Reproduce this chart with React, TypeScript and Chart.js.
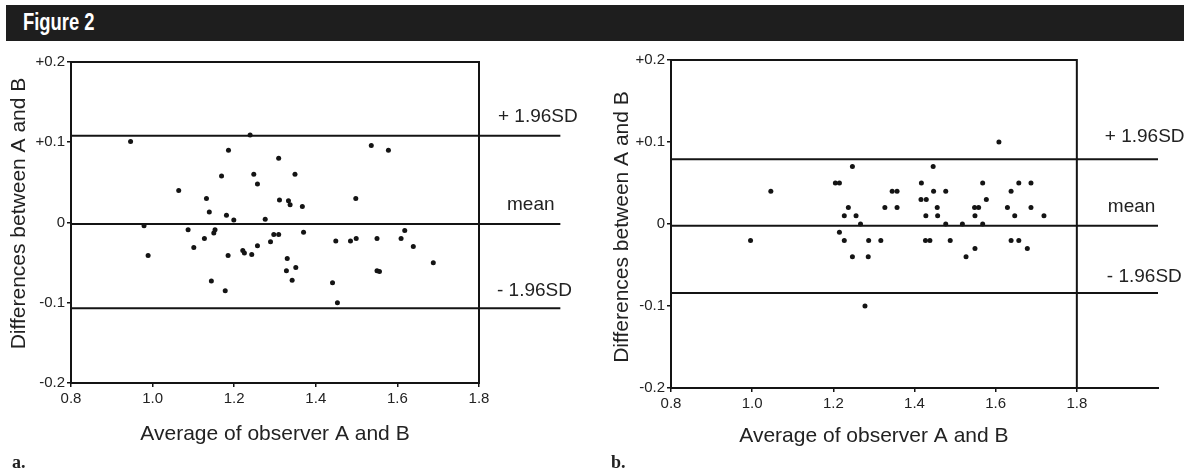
import React, { useEffect, useRef } from 'react';
import { Chart, registerables } from 'chart.js';
Chart.register(...registerables);

// ---------- data ----------
const xTickValues = [0.8, 1.0, 1.2, 1.4, 1.6, 1.8];
const yTickValues = [-0.2, -0.1, 0, 0.1, 0.2];
const yTickLabels = ['-0.2', '-0.1', '0', '+0.1', '+0.2'];
const xTitle = 'Average of observer A and B';
const yTitle = 'Differences between A and B';
const limitLabels = ['+ 1.96SD', 'mean', '- 1.96SD'];

// panel a
const aX = [
  0.946, 1.239, 1.186, 1.309, 1.169, 1.248, 1.257, 1.064, 1.132, 1.311,
  1.333, 1.337, 1.139, 1.181, 1.199, 1.276, 0.979, 1.087, 1.153, 1.150,
  1.297, 1.309, 1.127, 1.289, 1.101, 1.257, 1.221, 1.225, 1.243, 0.989,
  1.185, 1.330, 1.328, 1.144, 1.178,
  1.536, 1.578, 1.349, 1.367, 1.498, 1.370, 1.449, 1.485, 1.499, 1.550,
  1.609, 1.618, 1.639, 1.688, 1.351, 1.342, 1.441, 1.453, 1.550, 1.556,
];
const aY = [
  0.101, 0.109, 0.090, 0.080, 0.058, 0.060, 0.048, 0.040, 0.030, 0.028,
  0.027, 0.022, 0.013, 0.009, 0.003, 0.004, -0.004, -0.009, -0.009, -0.013,
  -0.015, -0.015, -0.020, -0.024, -0.031, -0.029, -0.035, -0.038, -0.040, -0.041,
  -0.041, -0.045, -0.060, -0.073, -0.085,
  0.096, 0.090, 0.060, 0.020, 0.030, -0.012, -0.023, -0.023, -0.020, -0.020,
  -0.020, -0.010, -0.030, -0.050, -0.056, -0.072, -0.075, -0.100, -0.060, -0.061,
];
const aLimits = [0.108, -0.002, -0.107];

// panel b
const bX = [
  1.608,
  1.247, 1.446,
  1.205, 1.215, 1.417, 1.568, 1.657, 1.687,
  1.046, 1.345, 1.357, 1.447, 1.477, 1.638,
  1.416, 1.429, 1.577,
  1.237, 1.327, 1.357, 1.456, 1.548, 1.558, 1.629, 1.687,
  1.227, 1.256, 1.428, 1.457, 1.549, 1.647, 1.719,
  1.267, 1.477, 1.518, 1.568,
  1.215,
  0.996, 1.227, 1.287, 1.317, 1.427, 1.438, 1.488, 1.638, 1.657,
  1.549, 1.678,
  1.247, 1.286, 1.527,
  1.278,
];
const bY = [
  0.10,
  0.07, 0.07,
  0.05, 0.05, 0.05, 0.05, 0.05, 0.05,
  0.04, 0.04, 0.04, 0.04, 0.04, 0.04,
  0.03, 0.03, 0.03,
  0.02, 0.02, 0.02, 0.02, 0.02, 0.02, 0.02, 0.02,
  0.01, 0.01, 0.01, 0.01, 0.01, 0.01, 0.01,
  0.0, 0.0, 0.0, 0.0,
  -0.01,
  -0.02, -0.02, -0.02, -0.02, -0.02, -0.02, -0.02, -0.02, -0.02,
  -0.03, -0.03,
  -0.04, -0.04, -0.04,
  -0.10,
];
const bLimits = [0.079, -0.002, -0.084];

// ---------- layout / style ----------
const INK = '#141414';
const TEXT = '#222';
const SANS = '"Liberation Sans", Arial, Helvetica, sans-serif';

type Panel = {
  xs: number[];
  ys: number[];
  limits: number[];
  canvasLeft: number;
  area: { left: number; top: number; right: number; bottom: number };
  bottomEnd: number;
  labelDx: number[];
  labelDy: number[];
  yTitleX: number;
  yTitleDy: number;
  xTitleDy: number;
};

const panelA: Panel = {
  xs: aX, ys: aY, limits: aLimits,
  canvasLeft: 0,
  area: { left: 71, top: 62, right: 560.6, bottom: 383 },
  bottomEnd: 1.8,
  labelDx: [19, 28, 18],
  labelDy: [14, 14, 12],
  yTitleX: 25,
  yTitleDy: -9,
  xTitleDy: 57,
};
const panelB: Panel = {
  xs: bX, ys: bY, limits: bLimits,
  canvasLeft: 592,
  area: { left: 79, top: 60, right: 566, bottom: 388 },
  bottomEnd: 2.0,
  labelDx: [28, 31, 30],
  labelDy: [17.5, 14, 11],
  yTitleX: 36,
  yTitleDy: 3,
  xTitleDy: 54,
};

const CW = 592;
const CH = 475;
const XAXIS_H = 30;

function makePlugin(p: Panel) {
  return {
    id: 'frameAndText',
    afterDatasetsDraw(chart: any) {
      const { ctx, scales } = chart;
      const x = scales.x;
      const y = scales.y;
      const x0 = x.getPixelForValue(0.8);
      const x18 = x.getPixelForValue(1.8);
      const xEnd = x.getPixelForValue(p.bottomEnd);
      const yTop = y.getPixelForValue(0.2);
      const yBot = y.getPixelForValue(-0.2);
      ctx.save();
      ctx.strokeStyle = INK;
      ctx.lineWidth = 2;
      ctx.lineCap = 'square';
      ctx.beginPath();
      ctx.moveTo(x0, yTop); ctx.lineTo(x18, yTop);
      ctx.moveTo(x0, yTop); ctx.lineTo(x0, yBot);
      ctx.moveTo(x18, yTop); ctx.lineTo(x18, yBot);
      ctx.moveTo(x0, yBot); ctx.lineTo(xEnd, yBot);
      ctx.stroke();

      ctx.fillStyle = TEXT;
      ctx.font = `19px ${SANS}`;
      ctx.textAlign = 'left';
      ctx.textBaseline = 'alphabetic';
      p.limits.forEach((v, i) => {
        ctx.fillText(limitLabels[i], x18 + p.labelDx[i], y.getPixelForValue(v) - p.labelDy[i]);
      });

      ctx.font = `21px ${SANS}`;
      ctx.textAlign = 'center';
      ctx.fillText(xTitle, (x0 + x18) / 2, yBot + p.xTitleDy);

      ctx.save();
      ctx.translate(p.yTitleX, (yTop + yBot) / 2 + p.yTitleDy);
      ctx.rotate(-Math.PI / 2);
      ctx.textAlign = 'center';
      ctx.textBaseline = 'alphabetic';
      ctx.fillText(yTitle, 0, 0);
      ctx.restore();
      ctx.restore();
    },
  };
}

function makeConfig(p: Panel): any {
  const lineDs = p.limits.map((v) => ({
    type: 'line',
    data: [{ x: 0.8, y: v }, { x: 2.0, y: v }],
    borderColor: INK,
    borderWidth: 2,
    pointRadius: 0,
    fill: false,
  }));
  return {
    type: 'scatter',
    data: {
      datasets: [
        {
          type: 'scatter',
          data: p.xs.map((xv, i) => ({ x: xv, y: p.ys[i] })),
          pointStyle: 'circle',
          pointRadius: 2.5,
          pointBackgroundColor: INK,
          pointBorderWidth: 0,
        },
        ...lineDs,
      ],
    },
    options: {
      animation: false,
      responsive: false,
      maintainAspectRatio: false,
      events: [],
      layout: {
        padding: {
          left: 0,
          top: p.area.top,
          right: CW - p.area.right,
          bottom: CH - p.area.bottom - XAXIS_H,
        },
      },
      plugins: { legend: { display: false }, tooltip: { enabled: false }, title: { display: false } },
      scales: {
        x: {
          type: 'linear',
          min: 0.8,
          max: 2.0,
          afterBuildTicks: (s: any) => { s.ticks = xTickValues.map((v) => ({ value: v })); },
          afterFit: (s: any) => { s.height = XAXIS_H; },
          ticks: {
            autoSkip: false,
            maxRotation: 0,
            padding: 3,
            color: TEXT,
            font: { family: SANS, size: 15 },
            callback: (v: number) => Number(v).toFixed(1),
          },
          grid: { display: true, drawOnChartArea: false, drawTicks: true, tickLength: 4, color: INK, lineWidth: 1.5 },
          border: { display: false },
        },
        y: {
          type: 'linear',
          min: -0.2,
          max: 0.2,
          afterBuildTicks: (s: any) => { s.ticks = yTickValues.map((v) => ({ value: v })); },
          afterFit: (s: any) => { s.width = p.area.left; },
          ticks: {
            autoSkip: false,
            padding: 2,
            color: TEXT,
            font: { family: SANS, size: 15 },
            callback: (v: number) => {
              const idx = yTickValues.findIndex((t) => Math.abs(t - v) < 1e-9);
              return idx >= 0 ? yTickLabels[idx] : '';
            },
          },
          grid: { display: true, drawOnChartArea: false, drawTicks: true, tickLength: 4, color: INK, lineWidth: 1.5 },
          border: { display: false },
        },
      },
    },
    plugins: [makePlugin(p)],
  };
}

function PanelChart({ panel }: { panel: Panel }) {
  const ref = useRef<HTMLCanvasElement | null>(null);
  useEffect(() => {
    if (!ref.current) return;
    const chart = new Chart(ref.current, makeConfig(panel));
    return () => chart.destroy();
  }, [panel]);
  return (
    <canvas
      ref={ref}
      width={CW}
      height={CH}
      style={{ position: 'absolute', left: panel.canvasLeft, top: 0, width: CW, height: CH }}
    />
  );
}

export default function App() {
  return (
    <div style={{ position: 'absolute', left: 0, top: 0, width: 1184, height: 475, background: '#fff', overflow: 'hidden' }}>
      <div
        style={{
          position: 'absolute', left: 6, top: 5, width: 1178, height: 36,
          background: '#1e1e1e',
        }}
      />
      <div
        style={{
          position: 'absolute', left: 23, top: 8, color: '#fff',
          font: `bold 23px "Liberation Sans Narrow", "Arial Narrow", ${SANS}`,
          lineHeight: '28px', letterSpacing: 0,
          transform: 'scaleX(0.8)', transformOrigin: 'left center', whiteSpace: 'nowrap',
        }}
      >
        Figure 2
      </div>
      <PanelChart panel={panelA} />
      <PanelChart panel={panelB} />
      <div style={{ position: 'absolute', left: 12, top: 452, font: 'bold 18px "Liberation Serif", serif', color: '#222' }}>a.</div>
      <div style={{ position: 'absolute', left: 611, top: 452, font: 'bold 18px "Liberation Serif", serif', color: '#222' }}>b.</div>
    </div>
  );
}
